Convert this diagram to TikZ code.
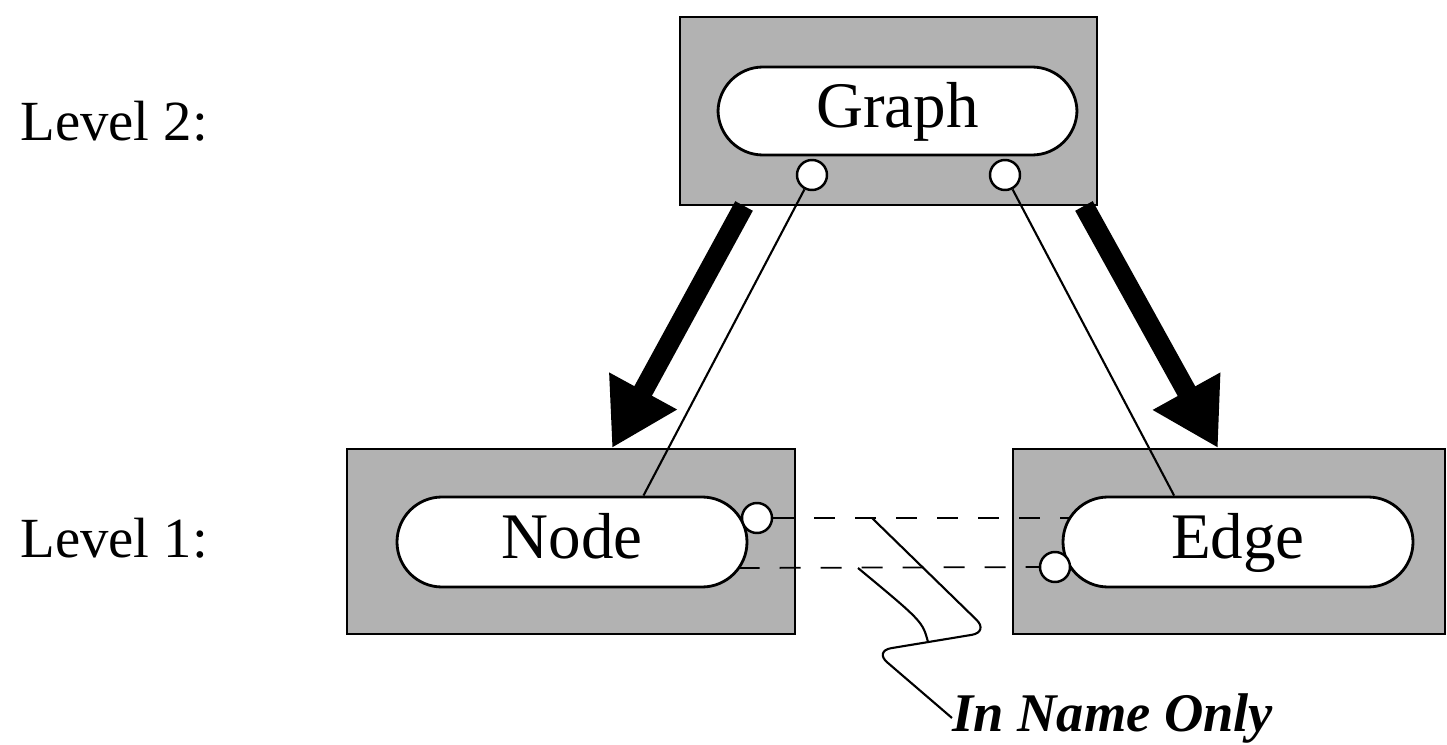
\documentclass[tikz,border=0pt]{standalone}
\usepackage{fontspec}
\newfontfamily\timesfont{Liberation Serif}
\usetikzlibrary{arrows.meta}

\begin{document}
\begin{tikzpicture}[
    layer/.style={
        rectangle, draw, line width=1.1pt, fill=black!30
    },
    pill/.style={
        rectangle, draw, line width=1.6pt, fill=white,
        minimum width=7cm, minimum height=1.8cm,
        text height=25pt, text depth=6pt,
        rounded corners=0.9cm, font=\timesfont\fontsize{37}{42}\selectfont
    },
    port/.style={
        circle, draw, line width=1.4pt, fill=white,
        minimum size=0.6cm, inner sep=0pt
    },
    lvl/.style={anchor=base west, inner sep=0pt, font=\timesfont\fontsize{32.3}{38}\selectfont},
    big/.style={line width=0.4cm, -{Triangle[length=1.3cm, width=1.45cm]}},
    thin/.style={line width=1.2pt},
    link/.style={line width=1pt, dash pattern=on 0.42cm off 0.4cm}
]
\useasboundingbox (0,0) rectangle (28.94,14.88);

\node[lvl] (l2) at (0.4, 12.08) {Level 2:};
\node[lvl] (l1) at (0.4, 3.74)  {Level 1:};

\node[layer, minimum width=8.34cm, minimum height=3.76cm] (gb) at (17.77, 12.66) {};
\node[layer, minimum width=8.96cm, minimum height=3.7cm]  (nb) at (11.42, 4.05)  {};
\node[layer, minimum width=8.64cm, minimum height=3.7cm]  (eb) at (24.58, 4.05)  {};

\node[pill, minimum width=7.18cm, minimum height=1.76cm] (gp) at (17.95, 12.66) {Graph};
\node[pill] (np) at (11.44, 4.04) {Node};
\node[pill] (ep) at (24.76, 4.04) {Edge};

\node[port] (gl) at (16.24, 11.38) {};
\node[port] (gr) at (20.1,  11.38) {};
\node[port] (nc) at (15.14, 4.52)  {};
\node[port] (ec) at (21.1,  3.54)  {};

\node[anchor=base west, inner sep=0pt, font=\timesfont\bfseries\itshape\fontsize{31}{36}\selectfont] (nm) at (19.04, 0.26) {In Name Only};

\coordinate (nl) at (14.77, 3.52);
\coordinate (eu) at (21.4,  4.52);
\coordinate (w1) at (17.44, 4.52);
\coordinate (w2) at (17.16, 3.52);

\draw[big] ([xshift=1.3cm]gb.south west)   -- ([xshift=0.82cm]nb.north);
\draw[big] ([xshift=-0.28cm]gb.south east) -- ([xshift=-0.22cm]eb.north);

\draw[thin] (gl) -- (np.33);
\draw[thin] (gr) -- (ep.144);

\draw[link] (nc) -- (eu);
\draw[link] (nl) -- (ec);

\draw[thin, rounded corners=0.35cm] (w1) -- (19.78, 2.24) -- (17.48, 1.86) -- (nm.west);
\draw[thin] (w2) .. controls (18.45, 2.45) .. (18.56, 2.04);

\end{tikzpicture}
\end{document}
